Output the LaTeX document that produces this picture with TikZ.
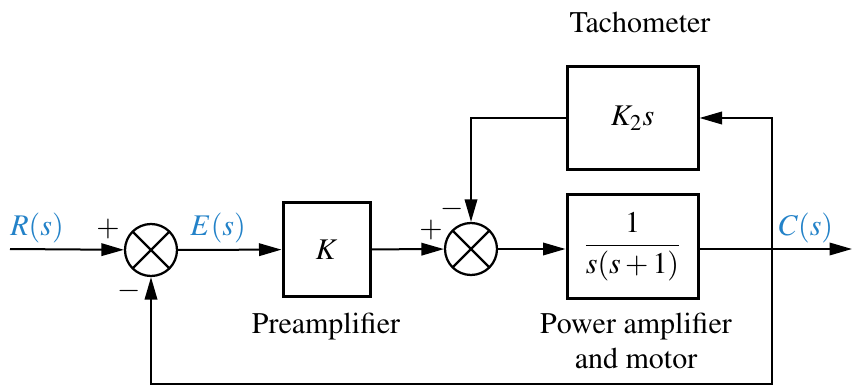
\documentclass[tikz,border=0pt]{standalone}
\usepackage{amsmath}
\usepackage[T1]{fontenc}
\usepackage{mathptmx}
\usepackage{xcolor}
\usetikzlibrary{positioning, calc, arrows.meta}

\definecolor{sigblue}{RGB}{35,130,200}

\tikzset{
    block/.style={draw, line width=1.2pt, inner sep=0pt, minimum width=52.4pt, minimum height=41.2pt},
    summer/.style={draw, circle, line width=0.9pt, inner sep=0pt, minimum size=20.8pt,
        path picture={
            \draw[line width=0.9pt] (path picture bounding box.north west) -- (path picture bounding box.south east)
                (path picture bounding box.north east) -- (path picture bounding box.south west);
        }},
    sig/.style={-{Triangle[length=9pt,width=5pt]}, line width=0.8pt},
    signame/.style={text=sigblue},
    sign/.style={inner sep=0pt}
}

\begin{document}
\begin{tikzpicture}[x=0.4pt, y=-0.4pt, font=\rmfamily\fontsize{12}{14}\selectfont]
    \useasboundingbox (0,0) rectangle (853,386);

    % Blocks and summing junctions
    \node[summer] (sum1) at (151,250) {};
    \node[block, minimum width=34.8pt, minimum height=37.2pt] (preamp) at (326.5,249.5) {$K$};
    \node[summer] (sum2) at (471,249) {};
    \node[block] (plant) at (632.5,246.5) {$\dfrac{1}{s(s+1)}$};
    \node[block] (tach) at (632.5,118) {$K_2 s$};

    % Input, output and branch point
    \coordinate (in) at (10,249);
    \coordinate (out) at (852,249);
    \coordinate (branch) at (772,249);
    \coordinate (bottom) at (772,384);

    % Forward path
    \draw[sig] (in) -- (sum1);
    \draw[sig] (sum1) -- (preamp);
    \draw[sig] (preamp) -- (sum2);
    \draw[sig] (sum2) -- (plant.west |- sum2);
    \draw[sig] (plant.east |- out) -- (out);

    % Feedback paths
    \draw[sig] (branch) |- (tach.east);
    \draw[sig] (tach.west) -| (sum2.north);
    \draw[sig] (branch) -- (bottom) -| (sum1.south);

    % Signal names
    \node[signame] (rs) at (37,228) {$R(s)$};
    \node[signame] (es) at (218,228) {$E(s)$};
    \node[signame] (cs) at (806,228) {$C(s)$};

    % Signs
    \node[sign] (p1) at (108,229) {$+$};
    \node[sign] (m1) at (129,291) {$-$};
    \node[sign] (p2) at (431,230) {$+$};
    \node[sign] (m2) at (452,209) {$-$};

    % Block labels
    \node (tachlabel) at (640,22) {Tachometer};
    \node (prelabel) at (326,327) {Preamplifier};
    \node[align=center] (plantlabel) at (636,341) {Power amplifier\\and motor};
\end{tikzpicture}
\end{document}
